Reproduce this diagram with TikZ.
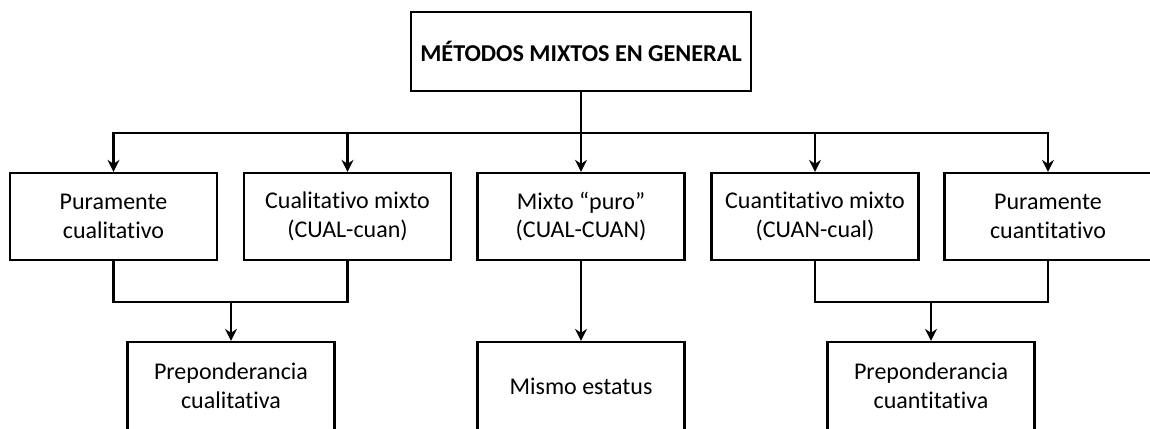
\documentclass[tikz,border=0pt]{standalone}
\usepackage{fontspec}
\setmainfont{Carlito}[RawFeature={-liga;-clig;-calt;-dlig}]
\usetikzlibrary{arrows.meta}
\begin{document}
\begin{tikzpicture}[x=1pt,y=-1pt,
  box/.style={draw=black,line width=2.3pt,minimum width=207pt,minimum height=87pt,inner sep=0pt,align=center,font=\fontsize{24}{28.5}\selectfont},
  titlebox/.style={draw=black,line width=2.3pt,minimum width=340pt,minimum height=79pt,inner sep=0pt,align=center,font=\fontsize{24.2}{30}\selectfont\bfseries},
  conn/.style={line width=2.3pt,draw=black},
  arr/.style={conn,-{Stealth[length=12pt,width=12pt,inset=4pt]}}]
\useasboundingbox (0,0) rectangle (1150,428);
\clip (0,0) rectangle (1150,428);
\node[titlebox] (top) at (581,51.5) {MÉTODOS MIXTOS EN GENERAL};
\node[box] (b1) at (113.5,216.5) {Puramente\\cualitativo};
\node[box] (b2) at (347.5,216.5) {Cualitativo mixto\\(CUAL-cuan)};
\node[box] (b3) at (581,216.5) {Mixto “puro”\\(CUAL-CUAN)};
\node[box] (b4) at (815,216.5) {Cuantitativo mixto\\(CUAN-cual)};
\node[box] (b5) at (1048,216.5) {Puramente\\cuantitativo};
\node[box,minimum height=88pt] (c1) at (231,386) {Preponderancia\\cualitativa};
\node[box,minimum height=88pt] (c2) at (581,386) {Mismo estatus};
\node[box,minimum height=88pt] (c3) at (931,386) {Preponderancia\\cuantitativa};
\coordinate (bus) at (581,133);
\coordinate (j1) at (231,302);
\coordinate (j3) at (931,302);
\draw[arr] (top.south) -- (b3.north);
\draw[arr] (bus) -| (b1.north);
\draw[arr] (bus) -| (b2.north);
\draw[arr] (bus) -| (b4.north);
\draw[arr] (bus) -| (b5.north);
\draw[conn] (b1.south) |- (j1);
\draw[conn] (b2.south) |- (j1);
\draw[arr] (j1) -- (c1.north);
\draw[arr] (b3.south) -- (c2.north);
\draw[conn] (b4.south) |- (j3);
\draw[conn] (b5.south) |- (j3);
\draw[arr] (j3) -- (c3.north);
\end{tikzpicture}
\end{document}
